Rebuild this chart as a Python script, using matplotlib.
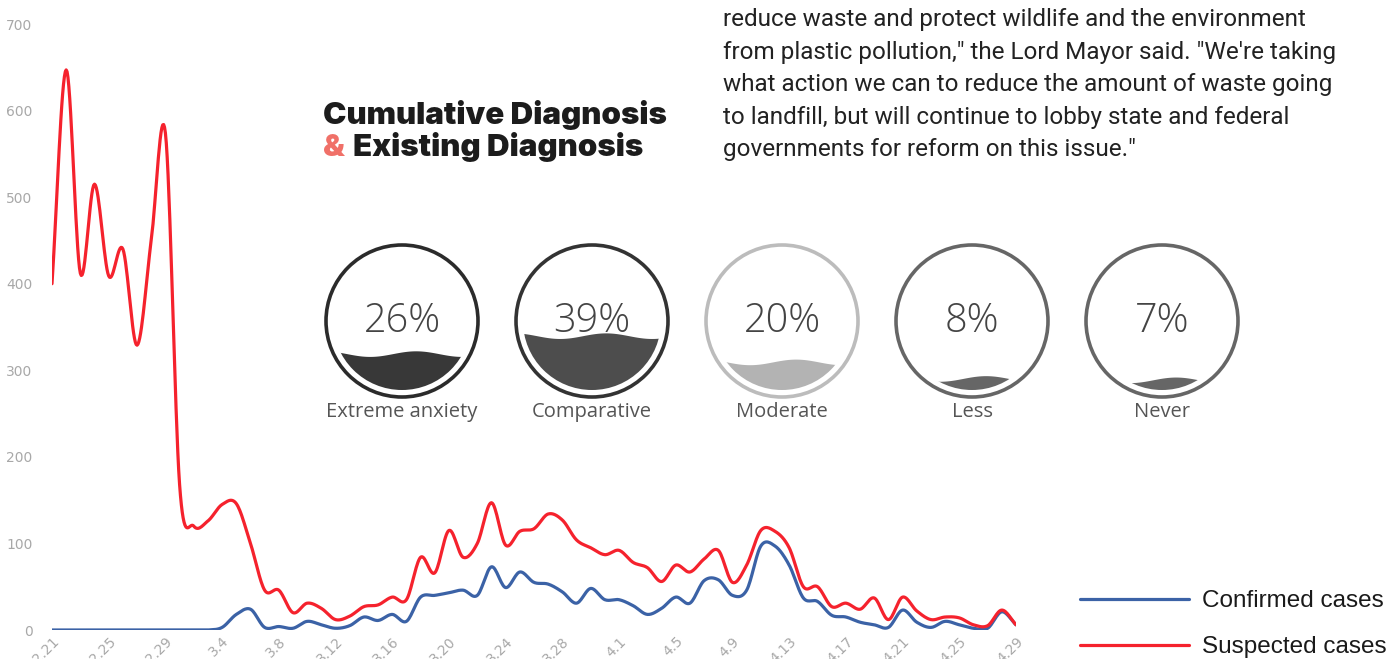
import numpy as np
import matplotlib
matplotlib.use("Agg")
import matplotlib.pyplot as plt
from matplotlib.patches import Circle, Polygon

# daily values 2.21 -> 4.29
dates = ['2.21', '2.22', '2.23', '2.24', '2.25', '2.26', '2.27', '2.28', '2.29',
         '3.1', '3.2', '3.3', '3.4', '3.5', '3.6', '3.7', '3.8', '3.9', '3.10',
         '3.11', '3.12', '3.13', '3.14', '3.15', '3.16', '3.17', '3.18', '3.19',
         '3.20', '3.21', '3.22', '3.23', '3.24', '3.25', '3.26', '3.27', '3.28',
         '3.29', '3.30', '3.31', '4.1', '4.2', '4.3', '4.4', '4.5', '4.6', '4.7',
         '4.8', '4.9', '4.10', '4.11', '4.12', '4.13', '4.14', '4.15', '4.16',
         '4.17', '4.18', '4.19', '4.20', '4.21', '4.22', '4.23', '4.24', '4.25',
         '4.26', '4.27', '4.28', '4.29']

suspected = [400, 647, 412, 515, 409, 440, 329, 450, 574, 168,
             120, 126, 145, 146, 100, 46, 46, 20, 31, 25,
             12, 16, 27, 29, 38, 35, 84, 66, 115, 84,
             100, 147, 98, 114, 117, 134, 127, 104, 95, 87,
             92, 78, 72, 56, 75, 67, 82, 92, 55, 75,
             115, 114, 95, 50, 50, 27, 31, 24, 37, 12,
             38, 22, 12, 15, 14, 6, 5, 23, 6]

confirmed = [0, 0, 0, 0, 0, 0, 0, 0, 0, 0,
             0, 0, 3, 18, 24, 3, 4, 2, 10, 6,
             2, 5, 15, 11, 18, 10, 38, 40, 43, 46,
             40, 73, 49, 67, 55, 53, 44, 31, 48, 35,
             35, 28, 18, 25, 38, 31, 57, 58, 40, 46,
             97, 97, 75, 37, 33, 17, 15, 9, 6, 3,
             23, 9, 3, 10, 6, 2, 2, 21, 6]

# gauges
gauge_pct = [26, 39, 20, 8, 7]
gauge_labels = ['Extreme anxiety', 'Comparative', 'Moderate', 'Less', 'Never']
ring_colors = ['#2b2b2b', '#333333', '#bcbcbc', '#666666', '#666666']
fill_colors = ['#383838', '#4d4d4d', '#b3b3b3', '#666666', '#666666']

paragraph = ("reduce waste and protect wildlife and the environment\n"
             "from plastic pollution,\" the Lord Mayor said. \"We're taking\n"
             "what action we can to reduce the amount of waste going\n"
             "to landfill, but will continue to lobby state and federal\n"
             "governments for reform on this issue.\"")


def smooth(x, y, n=16):
    # catmull-rom curve through the points (like a smoothed line chart)
    x = np.asarray(x, float)
    y = np.asarray(y, float)
    px = np.concatenate([[2*x[0]-x[1]], x, [2*x[-1]-x[-2]]])
    py = np.concatenate([[2*y[0]-y[1]], y, [2*y[-1]-y[-2]]])
    t = np.linspace(0, 1, n, endpoint=False)[:, None]
    def seg(p):
        p0, p1, p2, p3 = p[:-3], p[1:-2], p[2:-1], p[3:]
        return 0.5*((2*p1) + (-p0+p2)*t + (2*p0-5*p1+4*p2-p3)*t**2 + (-p0+3*p1-3*p2+p3)*t**3)
    sx = seg(px).T.ravel()
    sy = seg(py).T.ravel()
    return np.append(sx, x[-1]), np.append(sy, y[-1])


W, H = 1392, 659
fig = plt.figure(figsize=(W/100, H/100), dpi=100)

ax = fig.add_axes([52/W, (H-630)/H, (1016-52)/W, (630-24)/H])
idx = np.arange(len(dates))
bx, by = smooth(idx, confirmed)
rx, ry = smooth(idx, suspected)
ax.plot(bx, np.clip(by, 0, None), color='#3b62a6', lw=2.3, label='Confirmed cases',
        solid_capstyle='round')
ax.plot(rx, np.clip(ry, 0, None), color='#f5222d', lw=2.3, label='Suspected cases',
        solid_capstyle='round')
ax.set_xlim(0, len(dates)-1)
ax.set_ylim(0, 700)
ax.set_yticks(range(0, 701, 100))
ax.set_xticks(idx[::4])
ax.set_xticklabels(dates[::4], rotation=45, ha='right', rotation_mode='anchor')
ax.tick_params(length=0, colors='#a8a8a8', labelsize=10)
ax.tick_params(axis='y', pad=14)
ax.tick_params(axis='x', pad=3)
for s in ax.spines.values():
    s.set_visible(False)

leg = ax.legend(loc='upper left', bbox_to_anchor=(1080/W, 1-590/H), bbox_transform=fig.transFigure,
                frameon=False, handlelength=4.5, handletextpad=0.5,
                labelspacing=1.0, borderpad=0, borderaxespad=0,
                prop={'family': 'Liberation Sans', 'size': 17.5})
for t in leg.get_texts():
    t.set_color('#1a1a1a')

# overlay in pixel coordinates for text and gauges
ov = fig.add_axes([0, 0, 1, 1])
ov.set_xlim(0, W)
ov.set_ylim(H, 0)
ov.axis('off')
ov.patch.set_alpha(0)

ov.text(323, 124, 'Cumulative Diagnosis', fontsize=22.5, fontweight='black',
        family='Inter', color='#1c1c1c', va='baseline')
ov.text(323, 156, '&', fontsize=22.5, fontweight='black', family='Inter',
        color='#f07068', va='baseline')
ov.text(353, 156, 'Existing Diagnosis', fontsize=22.5, fontweight='black',
        family='Inter', color='#1c1c1c', va='baseline')

ov.text(723, 8, paragraph, fontsize=17.5, family='Roboto', color='#222222',
        va='top', ha='left', linespacing=1.53)

cy = 321
R = 76
Rin = 69
for i, (p, lab) in enumerate(zip(gauge_pct, gauge_labels)):
    cx = 402 + 190*i
    level = cy + Rin - 2*Rin*p/100
    xs = np.linspace(cx-Rin-2, cx+Rin+2, 200)
    wave = level - 2.8*np.sin((xs-cx)/Rin*1.5*np.pi + 0.6)
    poly = Polygon(np.column_stack([np.r_[xs, xs[::-1]],
                                    np.r_[wave, np.full(len(xs), cy+Rin+5)]]),
                   closed=True, fc=fill_colors[i], ec='none')
    ov.add_patch(poly)
    clip = Circle((cx, cy), Rin, transform=ov.transData, fc='none', ec='none')
    ov.add_patch(clip)
    poly.set_clip_path(clip)
    ov.add_patch(Circle((cx, cy), R, fc='none', ec=ring_colors[i], lw=2.6))
    ov.text(cx, cy, f'{p}%', fontsize=28.5, family='Open Sans', fontweight='light',
            color='#444444', ha='center', va='center')
    ov.text(cx, 412, lab, fontsize=14.5, family='Open Sans', color='#555555',
            ha='center', va='center')

fig.savefig('out.png', dpi=100)
